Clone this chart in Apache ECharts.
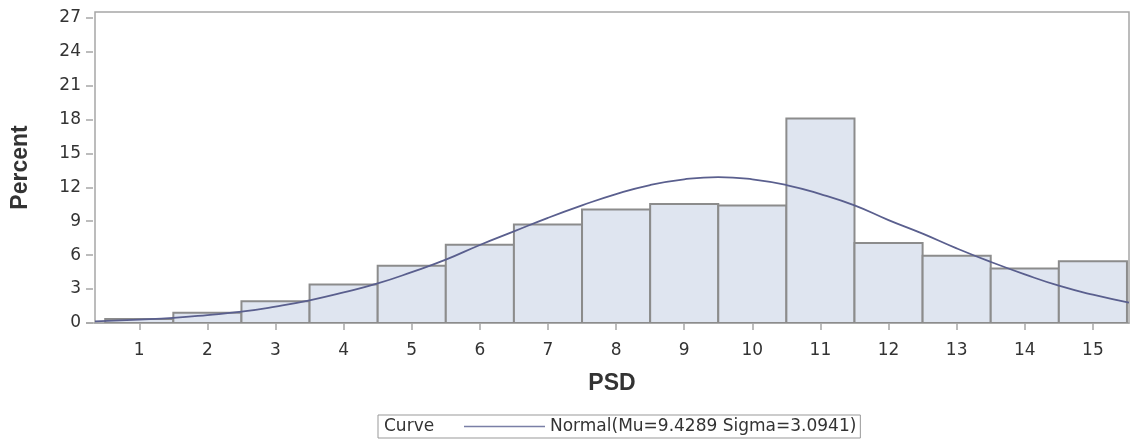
<!DOCTYPE html>
<html>
<head>
<meta charset="utf-8">
<style>
  html, body { margin: 0; padding: 0; background: #fff; }
  #chart-container { width: 1130px; height: 443px; }
</style>
<script src="https://cdn.jsdelivr.net/npm/echarts@6/dist/echarts.min.js"></script>
</head>
<body>
<div id="chart-container"></div>
<script>
var dom = document.getElementById('chart-container');
var myChart = echarts.init(dom, null, { renderer: 'canvas' });

// histogram bins (PSD midpoints) and percent per bin
var psdBins = [1, 2, 3, 4, 5, 6, 7, 8, 9, 10, 11, 12, 13, 14, 15];
var percents = [0.35, 0.9, 1.93, 3.4, 5.07, 6.93, 8.7, 10.03, 10.53, 10.38, 18.08, 7.08, 5.95, 4.83, 5.45];

// fitted normal curve
var curveX = [0.35, 1, 1.5, 2, 2.5, 3, 3.5, 4, 4.5, 5, 5.5, 6, 6.5, 7, 7.5, 8, 8.5, 9, 9.5, 10,
              10.5, 11, 11.5, 12, 12.5, 13, 13.5, 14, 14.5, 15, 15.53];
var curveY = [0.15, 0.3, 0.45, 0.7, 1.0, 1.45, 2.0, 2.7, 3.5, 4.5, 5.6, 6.9, 8.1, 9.3, 10.4, 11.4, 12.2, 12.7, 12.9, 12.7,
              12.2, 11.4, 10.4, 9.1, 7.9, 6.6, 5.4, 4.3, 3.3, 2.5, 1.8];
var curveName = 'Normal(Mu=9.4289 Sigma=3.0941)';

var xTicks = [1, 2, 3, 4, 5, 6, 7, 8, 9, 10, 11, 12, 13, 14, 15];
var yTicks = [0, 3, 6, 9, 12, 15, 18, 21, 24, 27];

var textColor = '#333';
var frameColor = '#a6a6a6';
var curveColor = '#5a5f8e';

var histData = psdBins.map(function (b, i) { return [b, percents[i]]; });
var curveData = curveX.map(function (x, i) { return [x, curveY[i]]; });

var option = {
  backgroundColor: '#fff',
  animation: false,
  grid: {
    left: 95, top: 12, right: 1, bottom: 120,
    show: true, borderColor: frameColor, borderWidth: 1.5, backgroundColor: 'transparent'
  },
  xAxis: {
    type: 'value',
    min: 0.35,
    max: 15.53,
    name: 'PSD',
    nameLocation: 'middle',
    nameGap: 49,
    nameTextStyle: { fontFamily: 'Liberation Sans', fontWeight: 'bold', fontSize: 23, color: textColor },
    splitLine: { show: false },
    axisLine: { show: true, lineStyle: { color: frameColor, width: 1.5 } },
    axisTick: { show: true, length: 7, customValues: xTicks, lineStyle: { color: frameColor, width: 1.5 } },
    axisLabel: { customValues: xTicks, margin: 19, fontFamily: 'DejaVu Sans', fontSize: 17, color: textColor }
  },
  yAxis: {
    type: 'value',
    min: 0,
    max: 27.5,
    offset: 2,
    name: 'Percent',
    nameLocation: 'middle',
    nameGap: 61,
    nameTextStyle: { fontFamily: 'Liberation Sans', fontWeight: 'bold', fontSize: 23, color: textColor },
    splitLine: { show: false },
    axisLine: { show: false },
    axisTick: { show: true, length: 7, customValues: yTicks, lineStyle: { color: frameColor, width: 1.5 } },
    axisLabel: { customValues: yTicks, margin: 12, fontFamily: 'DejaVu Sans', fontSize: 17, color: textColor }
  },
  legend: {
    show: true,
    data: [{ name: curveName, icon: 'rect' }],
    left: 378,
    top: 415,
    orient: 'horizontal',
    borderColor: '#999',
    borderWidth: 1,
    padding: [3, 4, 3, 86],
    itemWidth: 81,
    itemHeight: 1.5,
    selectedMode: false,
    itemStyle: { color: '#7a7fa6' },
    textStyle: { fontFamily: 'DejaVu Sans', fontSize: 17, color: textColor, lineHeight: 16 }
  },
  graphic: [
    {
      type: 'text',
      left: 384,
      top: 418,
      style: { text: 'Curve', fontFamily: 'DejaVu Sans', fontSize: 17, fill: textColor }
    },
    {
      type: 'line',
      shape: { x1: 86, y1: 323, x2: 95, y2: 323 },
      style: { stroke: frameColor, lineWidth: 1.5 }
    }
  ],
  series: [
    {
      type: 'custom',
      name: 'Histogram',
      clip: true,
      data: histData,
      renderItem: function (params, api) {
        var x = api.value(0);
        var y = api.value(1);
        var p1 = api.coord([x - 0.5, y]);
        var p2 = api.coord([x + 0.5, 0]);
        return {
          type: 'rect',
          shape: { x: p1[0], y: p1[1], width: p2[0] - p1[0], height: p2[1] - p1[1] },
          style: { fill: '#dfe5f0', stroke: '#8c8c8c', lineWidth: 2 }
        };
      },
      z: 1
    },
    {
      type: 'line',
      name: curveName,
      data: curveData,
      smooth: true,
      symbol: 'none',
      itemStyle: { color: curveColor },
      lineStyle: { color: curveColor, width: 1.8 },
      z: 3
    }
  ]
};

myChart.setOption(option);
window.addEventListener('resize', myChart.resize);
</script>
</body>
</html>
